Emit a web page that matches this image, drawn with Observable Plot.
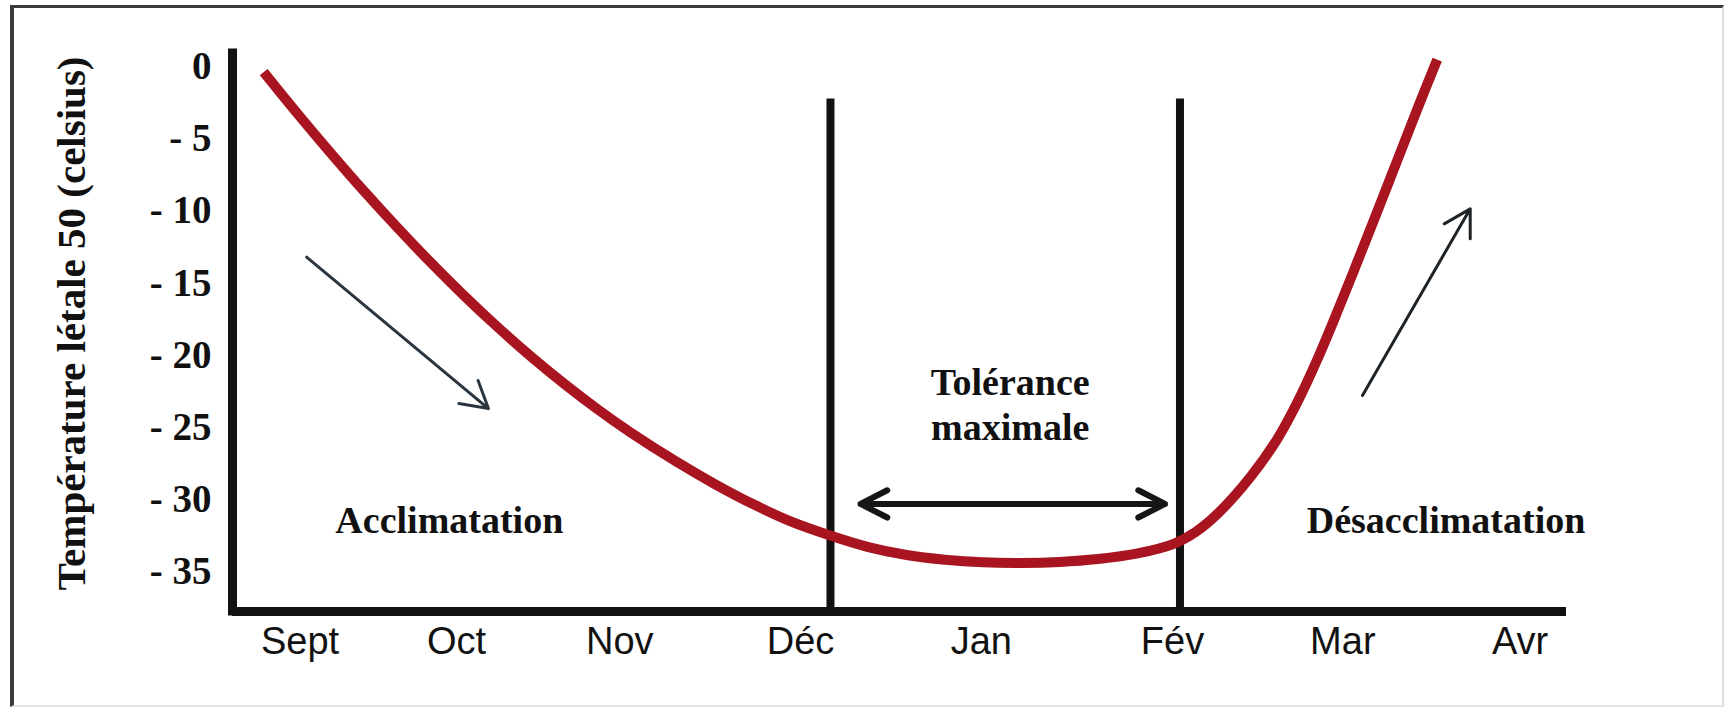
<!DOCTYPE html>
<html><head><meta charset="utf-8">
<script src="https://cdn.jsdelivr.net/npm/d3@7"></script>
<script src="https://cdn.jsdelivr.net/npm/@observablehq/plot@0.6"></script>
<style>
html,body{margin:0;padding:0;background:#fff;}
#wrap{position:relative;width:1733px;height:712px;overflow:hidden;background:#fff;}
#frame{position:absolute;left:10px;top:5px;width:1714px;height:702px;box-sizing:border-box;border-left:4px solid #3a3a3a;border-top:3px solid #3a3a3a;border-right:2px solid #dcdcdc;border-bottom:2px solid #e4e4e4;pointer-events:none;}
#chart{position:absolute;left:0;top:0;}
</style></head><body>
<div id="wrap"><div id="chart"></div><div id="frame"></div></div>
<script>
// Month labels and their (hand-drawn) positions, in months from "Sept"
const months   = ["Sept", "Oct", "Nov", "Déc", "Jan", "Fév", "Mar", "Avr"];
const monthPos = [0.01, 0.91, 1.85, 2.89, 3.93, 5.03, 6.01, 7.03];

// Y tick values (°C)
const yTicks = [0, -5, -10, -15, -20, -25, -30, -35];

// Lethal temperature 50 curve (month position, °C)
const curveX = [-0.199, -0.006, 0.185, 0.377, 0.569, 0.761, 0.952, 1.144, 1.336, 1.528, 1.720, 1.911,
                2.179, 2.399, 2.619, 2.840, 3.060, 3.280, 3.500, 3.720, 3.941, 4.161, 4.381, 4.601, 4.822,
                5.041, 5.162, 5.287, 5.479, 5.632, 5.747, 5.863, 5.978, 6.093, 6.208, 6.323, 6.438, 6.553];
const curveY = [-0.37, -3.23, -5.96, -8.61, -11.14, -13.56, -15.85, -18.02, -20.06, -21.96, -23.73, -25.35,
                -27.41, -28.95, -30.34, -31.56, -32.5, -33.3, -33.85, -34.18, -34.36, -34.40, -34.33, -34.13, -33.76,
                -33.06, -32.27, -31.02, -28.43, -25.83, -23.3, -20.3, -17.0, -13.55, -10.05, -6.5, -2.95, 0.5];

// Period boundaries (Déc, Fév)
const sepX = [3.062, 5.073];
const sepTop = -2.23;

// Axis extent
const xDomain = [-0.3786, 7.297];
const yDomain = [-37.77, 0.92];

// Arrows [x1, y1, x2, y2]
const arrowAccl   = [0.048, -13.2, 1.094, -23.7];
const arrowDesacc = [6.123, -22.79, 6.743, -9.85];
const tolLeft = 3.235, tolRight = 4.987, tolY = -30.31;

// Annotations
const annLabels = ["Acclimatation", "Tolérance", "maximale", "Désacclimatation"];
const annX      = [0.869, 4.096, 4.096, 6.604];
const annY      = [-32.35, -22.79, -25.91, -32.35];

const yTitle = "Température létale 50 (celsius)";

const curve = curveX.map((x, i) => ({x, y: curveY[i]}));
const ann = annLabels.map((t, i) => ({t, x: annX[i], y: annY[i]}));
const tolMid = (tolLeft + tolRight) / 2;
const toArrow = a => ({x1: a[0], y1: a[1], x2: a[2], y2: a[3]});

const serif = "'Liberation Serif', 'Times New Roman', serif";
const sans = "'Liberation Sans', Arial, sans-serif";

const chart = Plot.plot({
  width: 1733,
  height: 712,
  marginLeft: 232,
  marginRight: 167,
  marginTop: 53,
  marginBottom: 101,
  style: {background: "transparent", color: "#111"},
  x: {domain: xDomain},
  y: {domain: yDomain},
  marks: [
    Plot.axisX({ticks: monthPos, tickFormat: d => months[monthPos.indexOf(d)], tickSize: 0, tickPadding: 16,
      fontSize: 38, fontFamily: sans, fill: "#111", label: null}),
    Plot.axisY({ticks: yTicks, tickFormat: d => d === 0 ? "0" : "- " + Math.abs(d), tickSize: 0, tickPadding: 21,
      fontSize: 39, fontFamily: serif, fontWeight: "bold", fill: "#111", label: null}),
    Plot.text([yTitle], {frameAnchor: "left", dx: -148, dy: -9, rotate: -90, textAnchor: "middle", lineAnchor: "bottom",
      fontSize: 41, fontFamily: serif, fontWeight: "bold", fill: "#111"}),
    // period separators
    Plot.ruleX(sepX, {y1: sepTop, y2: yDomain[0], stroke: "#111", strokeWidth: 8}),
    // axes lines
    Plot.ruleY([yDomain[0]], {x1: xDomain[0], x2: xDomain[1], stroke: "#111", strokeWidth: 9}),
    Plot.ruleX([xDomain[0]], {y1: yDomain[1], y2: yDomain[0], stroke: "#111", strokeWidth: 9, strokeLinecap: "square"}),
    // curve
    Plot.line(curve, {x: "x", y: "y", curve: "catmull-rom", stroke: "#a8141f", strokeWidth: 10, strokeLinecap: "butt"}),
    // arrows
    Plot.arrow([toArrow(arrowAccl)], {x1: "x1", y1: "y1", x2: "x2", y2: "y2", stroke: "#2b3540", strokeWidth: 3, headLength: 15, headAngle: 60}),
    Plot.arrow([toArrow(arrowDesacc)], {x1: "x1", y1: "y1", x2: "x2", y2: "y2", stroke: "#1e2328", strokeWidth: 3, headLength: 15, headAngle: 60}),
    Plot.arrow([{x1: tolMid, y1: tolY, x2: tolLeft, y2: tolY}, {x1: tolMid, y1: tolY, x2: tolRight, y2: tolY}],
      {x1: "x1", y1: "y1", x2: "x2", y2: "y2", stroke: "#161616", strokeWidth: 6, headLength: 7.5, headAngle: 54}),
    // annotations
    Plot.text(ann, {x: "x", y: "y", text: "t", textAnchor: "middle", lineAnchor: "bottom",
      fontSize: 38, fontFamily: serif, fontWeight: "bold", fill: "#111"})
  ]
});
document.getElementById("chart").appendChild(chart);
</script>
</body></html>
